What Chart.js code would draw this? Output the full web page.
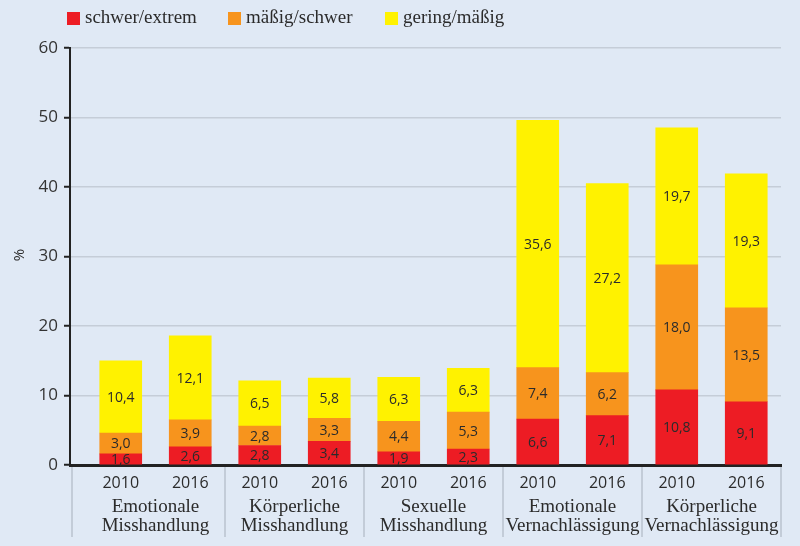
<!DOCTYPE html>
<html>
<head>
<meta charset="utf-8">
<script src="https://cdn.jsdelivr.net/npm/chart.js@4/dist/chart.umd.min.js"></script>
<style>
  html, body { margin: 0; padding: 0; background: #e0e9f5; }
  #wrap { width: 800px; height: 546px; position: relative; }
</style>
</head>
<body>
<div id="wrap"><canvas id="c"></canvas></div>
<script>
// data
const years = ["2010","2016","2010","2016","2010","2016","2010","2016","2010","2016"];
const groups = [
    ["Emotionale","Misshandlung"],
    ["Körperliche","Misshandlung"],
    ["Sexuelle","Misshandlung"],
    ["Emotionale","Vernachlässigung"],
    ["Körperliche","Vernachlässigung"]
];
const seriesNames = ["schwer/extrem","mäßig/schwer","gering/mäßig"];
const schwer = [1.6, 2.6, 2.8, 3.4, 1.9, 2.3, 6.6, 7.1, 10.8, 9.1];
const maessig = [3.0, 3.9, 2.8, 3.3, 4.4, 5.3, 7.4, 6.2, 18.0, 13.5];
const gering = [10.4, 12.1, 6.5, 5.8, 6.3, 6.3, 35.6, 27.2, 19.7, 19.3];
const yTicks = [0,10,20,30,40,50,60];

const colors = ["#ed1c24","#f7941d","#fff200"];
const txt = "#2b2b2b";
const serif = "'Liberation Serif', 'DejaVu Serif', serif";
const sans = "'Open Sans', 'DejaVu Sans', sans-serif";

function pts(arr){ return arr.map((v,i)=>({x:i, y:v})); }

// values in the segments, axis texts, legend
const extras = {
    id: "extras",
    afterDatasetsDraw(chart){
        const ctx = chart.ctx;
        ctx.save();
        ctx.font = "14px " + sans;
        ctx.fillStyle = txt;
        ctx.textAlign = "center";
        ctx.textBaseline = "middle";
        chart.data.datasets.forEach((ds, di)=>{
            chart.getDatasetMeta(di).data.forEach((bar, i)=>{
                const p = bar.getProps(["x","y","base"], true);
                ctx.fillText(ds.data[i].y.toFixed(1).replace(".", ","), p.x, (p.y + p.base)/2 + 1);
            });
        });
        ctx.restore();
    },
    afterDraw(chart){
        const ctx = chart.ctx;
        const xs = chart.scales.x, ys = chart.scales.y;
        const base = ys.getPixelForValue(0);
        ctx.save();
        // group separators
        ctx.strokeStyle = "#c3ccd8";
        ctx.lineWidth = 2;
        const seps = [xs.left + 2];
        for(let g=0; g<groups.length; g++) seps.push(xs.getPixelForValue(g*2 + 1.5));
        seps.forEach(x=>{
            ctx.beginPath(); ctx.moveTo(x, base + 2); ctx.lineTo(x, 537); ctx.stroke();
        });
        // years
        ctx.fillStyle = txt;
        ctx.textAlign = "center";
        ctx.textBaseline = "middle";
        ctx.font = "16px " + sans;
        years.forEach((y,i)=> ctx.fillText(y, xs.getPixelForValue(i), 483));
        ctx.font = "19px " + serif;
        groups.forEach((g,i)=>{
            const x = xs.getPixelForValue(i*2 + 0.5);
            ctx.fillText(g[0], x, 507);
            ctx.fillText(g[1], x, 526);
        });
        // % title
        ctx.save();
        ctx.translate(20, 255);
        ctx.rotate(-Math.PI/2);
        ctx.font = "15px " + sans;
        ctx.fillText("%", 0, 0);
        ctx.restore();
        // legend
        const lx = [67, 228, 385];
        ctx.textAlign = "left";
        ctx.font = "19px " + serif;
        seriesNames.forEach((n,i)=>{
            ctx.fillStyle = colors[i];
            ctx.fillRect(lx[i], 12, 13, 13);
            ctx.fillStyle = txt;
            ctx.fillText(n, lx[i] + 18, 18);
        });
        ctx.restore();
    }
};

new Chart(document.getElementById("c"), {
    type: "bar",
    data: {
        datasets: [
            { label: seriesNames[0], data: pts(schwer), backgroundColor: colors[0] },
            { label: seriesNames[1], data: pts(maessig), backgroundColor: colors[1] },
            { label: seriesNames[2], data: pts(gering), backgroundColor: colors[2] }
        ]
    },
    options: {
        responsive: true,
        maintainAspectRatio: false,
        animation: false,
        events: [],
        barThickness: 42,
        layout: { padding: { top: 48, right: 19, bottom: 81, left: 0 } },
        plugins: { legend: { display: false }, tooltip: { enabled: false } },
        scales: {
            x: {
                type: "linear",
                stacked: true,
                min: -0.73,
                max: 9.5,
                afterBuildTicks(s){ s.ticks = []; },
                ticks: { display: false },
                grid: { display: false, drawTicks: false },
                border: { display: true, color: "#222", width: 3 }
            },
            y: {
                stacked: true,
                min: 0,
                max: 60,
                afterBuildTicks(s){ s.ticks = yTicks.map(v=>({value:v})); },
                afterFit(s){ s.width = 70; },
                ticks: { color: "#333", font: { size: 17, family: sans }, padding: 6 },
                grid: { color: "#c5cdd8", lineWidth: 1.5, tickLength: 6, tickColor: "#222", tickWidth: 2 },
                border: { display: true, color: "#222", width: 2 }
            }
        }
    },
    plugins: [extras]
});
</script>
</body>
</html>
